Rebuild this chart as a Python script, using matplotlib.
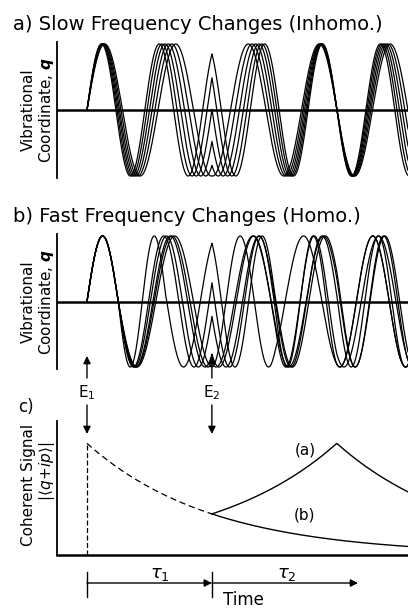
import numpy as np
import matplotlib.pyplot as plt
from matplotlib.transforms import blended_transform_factory

# time in units of one vibrational period, E1 at 0, E2 at 2
t_e1 = 0.0
t_e2 = 2.0
t_end = 5.14

# a) inhomogeneous: each oscillator keeps its own frequency
freqs_a = [0.88, 0.92, 0.96, 1.00, 1.04, 1.08]

# b) homogeneous: frequencies jump around; one list per oscillator
seg_edges_b = [0.0, 0.5, 1.25, 2.0, 3.0, 4.0, 5.2]
freqs_b = [
    [1.00, 1.30, 0.93, 1.15, 0.95, 1.10],
    [1.00, 1.03, 1.03, 1.05, 1.20, 0.95],
    [1.00, 0.97, 0.98, 0.95, 1.00, 1.15],
    [1.00, 0.87, 0.87, 0.85, 0.90, 1.05],
    [1.00, 0.83, 0.83, 1.10, 0.85, 0.95],
    [1.00, 0.90, 0.90, 0.90, 1.10, 0.90],
]

# c) coherent signal
amp0 = 1.0
decay_T = 2.0


def oscillator(t, rate):
    # phase runs forward until E2, then backwards (echo)
    dt = t[1] - t[0]
    sign = np.where(t < t_e2, 1.0, -1.0)
    phase = np.concatenate([[0.0], np.cumsum(rate[:-1] * sign[:-1] * dt)])
    return np.sin(2 * np.pi * phase)


W, H = 408, 609
fig = plt.figure(figsize=(W / 100, H / 100), dpi=100)


def box(l, t, r, b):
    return [l / W, 1 - b / H, (r - l) / W, (b - t) / H]


ax_a = fig.add_axes(box(57, 42, 408, 178))
ax_b = fig.add_axes(box(57, 234, 408, 369))
ax_c = fig.add_axes(box(57, 421, 408, 555))

t = np.linspace(t_e1, t_end, 4000)

for f in freqs_a:
    ax_a.plot(t, oscillator(t, np.full_like(t, f)), color='k', lw=0.9)

for fl in freqs_b:
    idx = np.clip(np.searchsorted(seg_edges_b, t, side='right') - 1, 0, len(fl) - 1)
    ax_b.plot(t, oscillator(t, np.array(fl)[idx]), color='k', lw=0.9)

for ax in (ax_a, ax_b):
    ax.axhline(0, color='k', lw=1.8)
    ax.set_ylim(-1.03, 1.03)

# panel c curves
t1 = np.linspace(t_e1, t_e2, 200)
ax_c.plot(t1, amp0 * np.exp(-(t1 - t_e1) / decay_T), color='k', lw=0.9, ls=(0, (5, 3)))
ax_c.plot([t_e1, t_e1], [0, amp0], color='k', lw=0.9, ls=(0, (4, 2)))
t2 = np.linspace(t_e2, t_end, 300)
ax_c.plot(t2, amp0 * np.exp(-(t2 - t_e1) / decay_T), color='k', lw=1.0)
t_echo = 2 * t_e2 - t_e1
sig_a = amp0 * np.exp(-np.abs(t2 - t_echo) / decay_T)
ax_c.plot(t2, sig_a, color='k', lw=1.0)
ax_c.set_ylim(0, amp0 * 1.2)
ax_c.text(3.49, 0.94, "(a)", fontsize=11, ha='center', va='center')
ax_c.text(3.49, 0.36, "(b)", fontsize=11, ha='center', va='center')

for ax in (ax_a, ax_b, ax_c):
    ax.set_xlim(-0.48, t_end)
    ax.set_xticks([])
    ax.set_yticks([])
    for s in ('top', 'right'):
        ax.spines[s].set_visible(False)
    ax.spines['left'].set_linewidth(1.3)
for ax in (ax_a, ax_b):
    ax.spines['bottom'].set_visible(False)
ax_c.spines['bottom'].set_linewidth(1.8)

# titles and labels
fig.text(13 / W, 1 - 24 / H, "a) Slow Frequency Changes (Inhomo.)", fontsize=14, va='center')
fig.text(13 / W, 1 - 217 / H, "b) Fast Frequency Changes (Homo.)", fontsize=14, va='center')
fig.text(26 / W, 1 - 407 / H, "c)", fontsize=12, va='center', ha='center')
for yc in (110, 302):
    fig.text(28 / W, 1 - yc / H, "Vibrational", rotation=90, fontsize=11, ha='center', va='center')
    fig.text(47 / W, 1 - yc / H, r"Coordinate, $\mathbfit{q}$", rotation=90, fontsize=11, ha='center', va='center')
fig.text(28 / W, 1 - 485 / H, "Coherent Signal", rotation=90, fontsize=11, ha='center', va='center')
fig.text(47 / W, 1 - 471 / H, r"$|\langle q\!+\!ip\rangle|$", rotation=90, fontsize=11, ha='center', va='center')

# pulse markers and time axis, x in time units, y in figure pixels
tr = blended_transform_factory(ax_c.transData, fig.transFigure)


def py(p):
    return 1 - p / H


arr = dict(arrowstyle='-|>', color='k', lw=1.0, mutation_scale=11, shrinkA=0, shrinkB=0)
for te, lab in ((t_e1, r"E$_1$"), (t_e2, r"E$_2$")):
    fig.add_artist(plt.Annotation("", xy=(te, py(356)), xytext=(te, py(378)),
                                  xycoords=tr, textcoords=tr, arrowprops=arr))
    fig.text(te, py(393), lab, transform=tr, fontsize=11, ha='center', va='center')
    fig.add_artist(plt.Annotation("", xy=(te, py(434)), xytext=(te, py(405)),
                                  xycoords=tr, textcoords=tr, arrowprops=arr))
    fig.add_artist(plt.Line2D([te, te], [py(572), py(597)], transform=tr, color='k', lw=1.0))

fig.add_artist(plt.Annotation("", xy=(t_e2, py(583)), xytext=(t_e1, py(583)),
                              xycoords=tr, textcoords=tr, arrowprops=arr))
fig.add_artist(plt.Annotation("", xy=(4.34, py(583)), xytext=(t_e2, py(583)),
                              xycoords=tr, textcoords=tr, arrowprops=arr))
fig.text(1.17, py(574), r"$\tau_1$", transform=tr, fontsize=13, ha='center', va='center')
fig.text(3.2, py(574), r"$\tau_2$", transform=tr, fontsize=13, ha='center', va='center')
fig.text(2.5, py(600), "Time", transform=tr, fontsize=12, ha='center', va='center')

fig.savefig("out.png", dpi=100)
